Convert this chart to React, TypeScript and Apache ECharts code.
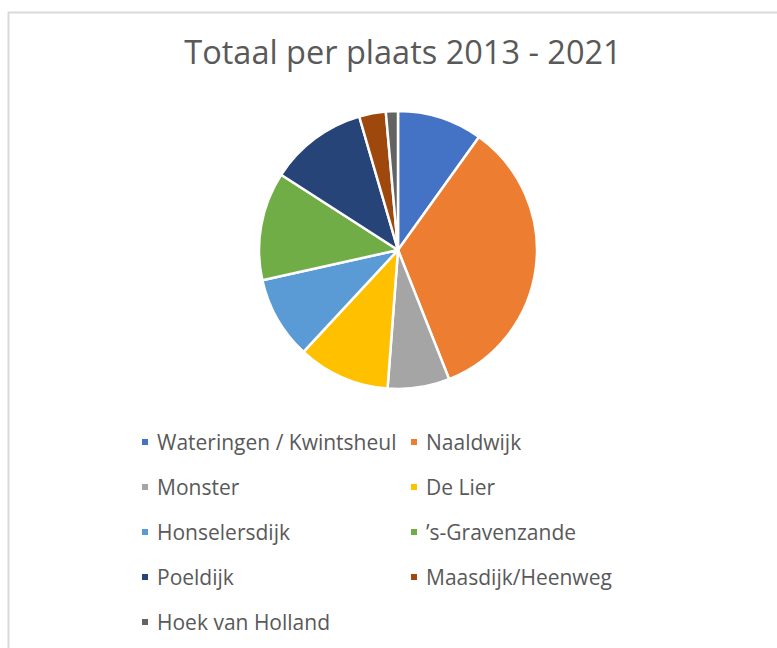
import React, { useEffect, useRef } from "react";
import * as echarts from "echarts";

const titleText = "Totaal per plaats 2013 - 2021";
const places = [
  "Wateringen / Kwintsheul",
  "Naaldwijk",
  "Monster",
  "De Lier",
  "Honselersdijk",
  "\u2019s-Gravenzande",
  "Poeldijk",
  "Maasdijk/Heenweg",
  "Hoek van Holland",
];
const totals = [99, 341, 72, 107, 96, 126, 114, 31, 14];
const colors = [
  "#4472C4",
  "#ED7D31",
  "#A5A5A5",
  "#FFC000",
  "#5B9BD5",
  "#70AD47",
  "#264478",
  "#9E480E",
  "#636363",
];

const FONT = "'Open Sans', 'Noto Sans', sans-serif";

export default function App() {
  const ref = useRef<HTMLDivElement>(null);
  useEffect(() => {
    if (!ref.current) return;
    const chart = echarts.init(ref.current, null, { renderer: "svg" });
    const leftCol = places.filter((_, i) => i % 2 === 0);
    const rightCol = places.filter((_, i) => i % 2 === 1);
    const legendBase = {
      orient: "vertical" as const,
      top: 430,
      padding: 0,
      itemWidth: 8,
      itemHeight: 8,
      itemGap: 21,
      icon: "rect",
      textStyle: {
        color: "#595959",
        fontSize: 21,
        fontFamily: FONT,
        lineHeight: 24,
        padding: [0, 0, 0, 3],
      },
    };
    chart.setOption({
      animation: false,
      backgroundColor: "#ffffff",
      color: colors,
      title: {
        text: titleText,
        left: 398,
        textAlign: "center",
        top: 30,
        textStyle: {
          color: "#595959",
          fontSize: 32.5,
          fontWeight: "normal",
          fontFamily: FONT,
        },
      },
      legend: [
        { ...legendBase, left: 140, data: leftCol },
        { ...legendBase, left: 409, data: rightCol },
      ],
      graphic: [
        {
          type: "rect",
          left: 6,
          top: 10,
          shape: { width: 820, height: 700 },
          style: { fill: "none", stroke: "#d9d9d9", lineWidth: 2 },
          silent: true,
        },
      ],
      series: [
        {
          type: "pie",
          center: [398, 250],
          radius: 139,
          startAngle: 90,
          clockwise: true,
          label: { show: false },
          labelLine: { show: false },
          itemStyle: { borderColor: "#ffffff", borderWidth: 2.5 },
          emphasis: { disabled: true },
          data: places.map((name, i) => ({ name, value: totals[i] })),
        },
      ],
    });
    return () => chart.dispose();
  }, []);
  return (
    <div
      ref={ref}
      style={{ position: "fixed", left: 0, top: 0, width: 777, height: 648 }}
    />
  );
}
